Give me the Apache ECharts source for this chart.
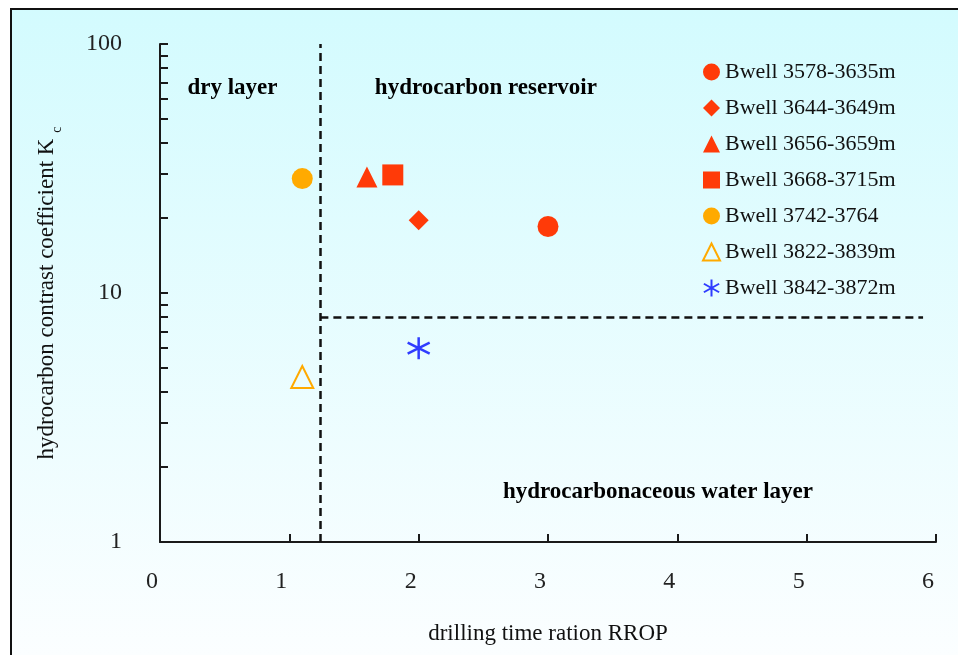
<!DOCTYPE html>
<html>
<head>
<meta charset="utf-8">
<script src="https://cdn.jsdelivr.net/npm/echarts@6/dist/echarts.min.js"></script>
<style>
	html, body { margin: 0; padding: 0; background: #fff; }
	#main { width: 958px; height: 655px; }
</style>
</head>
<body>
<div id="main"></div>
<script>
	// well intervals, [RROP, Kc]
	var wellNames = [
		'Bwell 3578-3635m',
		'Bwell 3644-3649m',
		'Bwell 3656-3659m',
		'Bwell 3668-3715m',
		'Bwell 3742-3764',
		'Bwell 3822-3839m',
		'Bwell 3842-3872m'
	];
	var well3578 = [[3.0, 18.5]];
	var well3644 = [[2.0, 19.6]];
	var well3656 = [[1.6, 29.2]];
	var well3668 = [[1.8, 29.8]];
	var well3742 = [[1.1, 28.8]];
	var well3822 = [[1.1, 4.6]];
	var well3842 = [[2.0, 6.0]];

	// zone boundaries
	var dryLimitX = 1.24;
	var waterLimitY = 8;
	var waterLineEndX = 5.9;

	// zone captions, [x, y, text]
	var zoneLabels = [
		[0.56, 66.6, 'dry layer'],
		[2.52, 66.6, 'hydrocarbon reservoir'],
		[3.85, 1.59, 'hydrocarbonaceous water layer']
	];

	var xTicks = [0, 1, 2, 3, 4, 5, 6];
	var yTicks = [1, 2, 3, 4, 5, 6, 7, 8, 9, 10, 20, 30, 40, 50, 60, 70, 80, 90, 100];

	var RED = '#ff3a08';
	var ORANGE = '#ffaa00';
	var BLUE = '#2f3cff';
	var FONT = '"Liberation Serif", "Times New Roman", serif';
	var asterisk = 'path://M10,0L10,20M1,5L19,15M1,15L19,5';

	var myChart = echarts.init(document.getElementById('main'));

	function point(name, data, symbol, size, style) {
		style.opacity = 1;
		return {
			name: name,
			type: 'scatter',
			data: data,
			symbol: symbol,
			symbolSize: size,
			itemStyle: style,
			z: 5
		};
	}

	var option = {
		backgroundColor: '#ffffff',
		animation: false,
		textStyle: { fontFamily: FONT, color: '#111' },
		graphic: [{
			type: 'rect',
			left: 10,
			top: 8,
			z: -10,
			shape: { width: 960, height: 660 },
			style: {
				fill: new echarts.graphic.LinearGradient(0, 0, 0, 1, [
					{ offset: 0, color: '#d3fbfe' },
					{ offset: 1, color: '#fcfeff' }
				]),
				stroke: '#111',
				lineWidth: 2
			}
		}],
		grid: { left: 160, top: 44, right: 22, bottom: 113 },
		legend: {
			orient: 'vertical',
			left: 697,
			top: 56,
			itemWidth: 17,
			itemHeight: 17,
			itemGap: 14,
			data: wellNames,
			textStyle: { fontFamily: FONT, fontSize: 22, color: '#111', lineHeight: 22 }
		},
		xAxis: {
			type: 'value',
			min: 0,
			max: 6,
			interval: 1,
			name: 'drilling time ration RROP',
			nameLocation: 'middle',
			nameGap: 80,
			nameTextStyle: { fontFamily: FONT, fontSize: 23, color: '#111' },
			axisLine: { show: true, lineStyle: { color: '#1a1a1a', width: 2 } },
			axisTick: { show: true, inside: true, length: 8, lineStyle: { color: '#1a1a1a', width: 2 }, customValues: xTicks },
			axisLabel: { fontFamily: FONT, fontSize: 24, color: '#222', margin: 28, padding: [0, 16, 0, 0] },
			splitLine: { show: false }
		},
		yAxis: {
			type: 'log',
			logBase: 10,
			min: 1,
			max: 100,
			name: '{m|hydrocarbon contrast coefficient K }{s|c}',
			nameLocation: 'middle',
			nameGap: 96,
			nameTextStyle: {
				fontFamily: FONT, fontSize: 23, color: '#111',
				rich: {
					m: { fontFamily: FONT, fontSize: 23, color: '#111', lineHeight: 34, verticalAlign: 'middle' },
					s: { fontFamily: FONT, fontSize: 14, color: '#111', lineHeight: 34, verticalAlign: 'bottom' }
				}
			},
			axisLine: { show: true, lineStyle: { color: '#1a1a1a', width: 2 } },
			axisTick: { show: true, inside: true, length: 8, lineStyle: { color: '#1a1a1a', width: 2 }, customValues: yTicks },
			axisLabel: { fontFamily: FONT, fontSize: 24, color: '#222', margin: 38 },
			splitLine: { show: false }
		},
		series: [
			point(wellNames[0], well3578, 'circle', 21, { color: RED }),
			point(wellNames[1], well3644, 'diamond', 20, { color: RED }),
			point(wellNames[2], well3656, 'triangle', 21, { color: RED }),
			point(wellNames[3], well3668, 'rect', 21, { color: RED }),
			point(wellNames[4], well3742, 'circle', 21, { color: ORANGE }),
			point(wellNames[5], well3822, 'triangle', 22, { color: 'transparent', borderColor: ORANGE, borderWidth: 2 }),
			point(wellNames[6], well3842, asterisk, 22, { color: 'transparent', borderColor: BLUE, borderWidth: 2.5 }),
			{
				name: 'zones',
				type: 'scatter',
				symbolSize: 0,
				silent: true,
				itemStyle: { opacity: 1 },
				data: zoneLabels.map(function(z){
					return { value: [z[0], z[1]], name: z[2] };
				}),
				label: {
					show: true,
					position: 'inside',
					formatter: '{b}',
					fontFamily: FONT,
					fontSize: 23,
					fontWeight: 'bold',
					color: '#000'
				},
				markLine: {
					silent: true,
					symbol: 'none',
					label: { show: false },
					lineStyle: { color: '#111', width: 2.5, type: [8, 5], opacity: 1 },
					data: [
						{ xAxis: dryLimitX },
						[{ coord: [dryLimitX, waterLimitY] }, { coord: [waterLineEndX, waterLimitY] }]
					]
				}
			}
		]
	};

	myChart.setOption(option);
</script>
</body>
</html>
